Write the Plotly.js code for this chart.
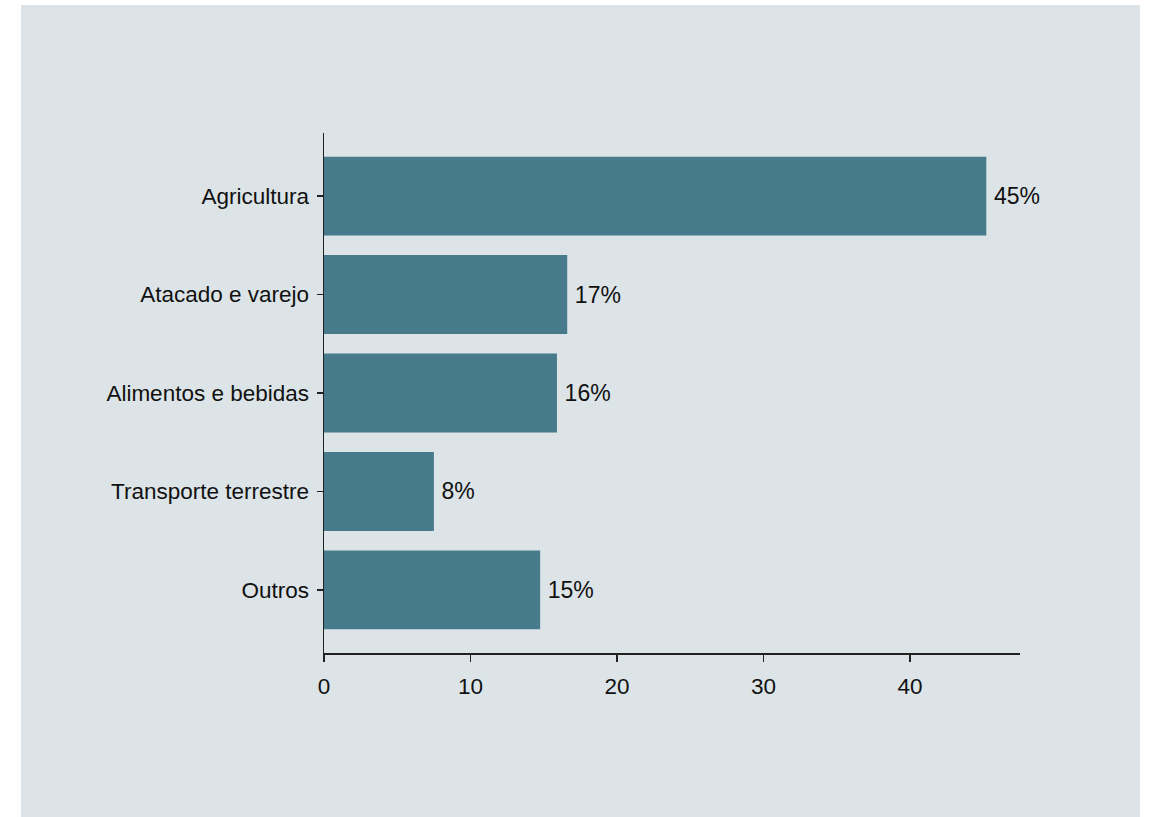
<!DOCTYPE html>
<html>
<head>
<meta charset="utf-8">
<script src="https://cdn.plot.ly/plotly-3.0.1.min.js"></script>
<style>
html,body{margin:0;padding:0;background:#ffffff;width:1150px;height:817px;overflow:hidden;}
#chart{position:absolute;left:21px;top:5px;width:1119px;height:812px;}
</style>
</head>
<body>
<div id="chart"></div>
<script>
const categories = ["Agricultura", "Atacado e varejo", "Alimentos e bebidas", "Transporte terrestre", "Outros"];
const values = [45.2, 16.6, 15.9, 7.5, 14.75];
const labels = ["45%", "17%", "16%", "8%", "15%"];
const xTicks = [0, 10, 20, 30, 40];

const trace = {
  type: "bar",
  orientation: "h",
  y: categories,
  x: values,
  text: labels,
  texttemplate: "\u2009%{text}",
  textposition: "outside",
  cliponaxis: false,
  textfont: {family: "Liberation Sans, Arial, sans-serif", size: 23, color: "#111111"},
  marker: {color: "#477a8b", line: {width: 0}},
  width: 0.8,
  hoverinfo: "none"
};

const layout = {
  width: 1119,
  height: 812,
  paper_bgcolor: "#dce4e7",
  plot_bgcolor: "#dce4e7",
  margin: {l: 303, r: 120, t: 128, b: 164},
  showlegend: false,
  font: {family: "Liberation Sans, Arial, sans-serif", size: 22.5, color: "#111111"},
  xaxis: {
    range: [0, 47.5],
    tickvals: xTicks,
    ticktext: xTicks.map(String),
    showgrid: false,
    zeroline: false,
    showline: true,
    linecolor: "#222222",
    linewidth: 1.5,
    ticks: "outside",
    ticklen: 7,
    tickwidth: 1.5,
    tickcolor: "#222222",
    ticklabelstandoff: 5,
    tickfont: {size: 22.5, color: "#111111"}
  },
  yaxis: {
    categoryorder: "array",
    categoryarray: categories,
    autorange: false,
    range: [4.64, -0.64],
    showgrid: false,
    zeroline: false,
    showline: true,
    linecolor: "#222222",
    linewidth: 1.5,
    ticks: "outside",
    ticklen: 6,
    tickwidth: 1.5,
    tickcolor: "#222222",
    ticklabelstandoff: 3,
    tickfont: {size: 22.5, color: "#111111"}
  }
};

Plotly.newPlot("chart", [trace], layout, {staticPlot: true, displayModeBar: false});
</script>
</body>
</html>
